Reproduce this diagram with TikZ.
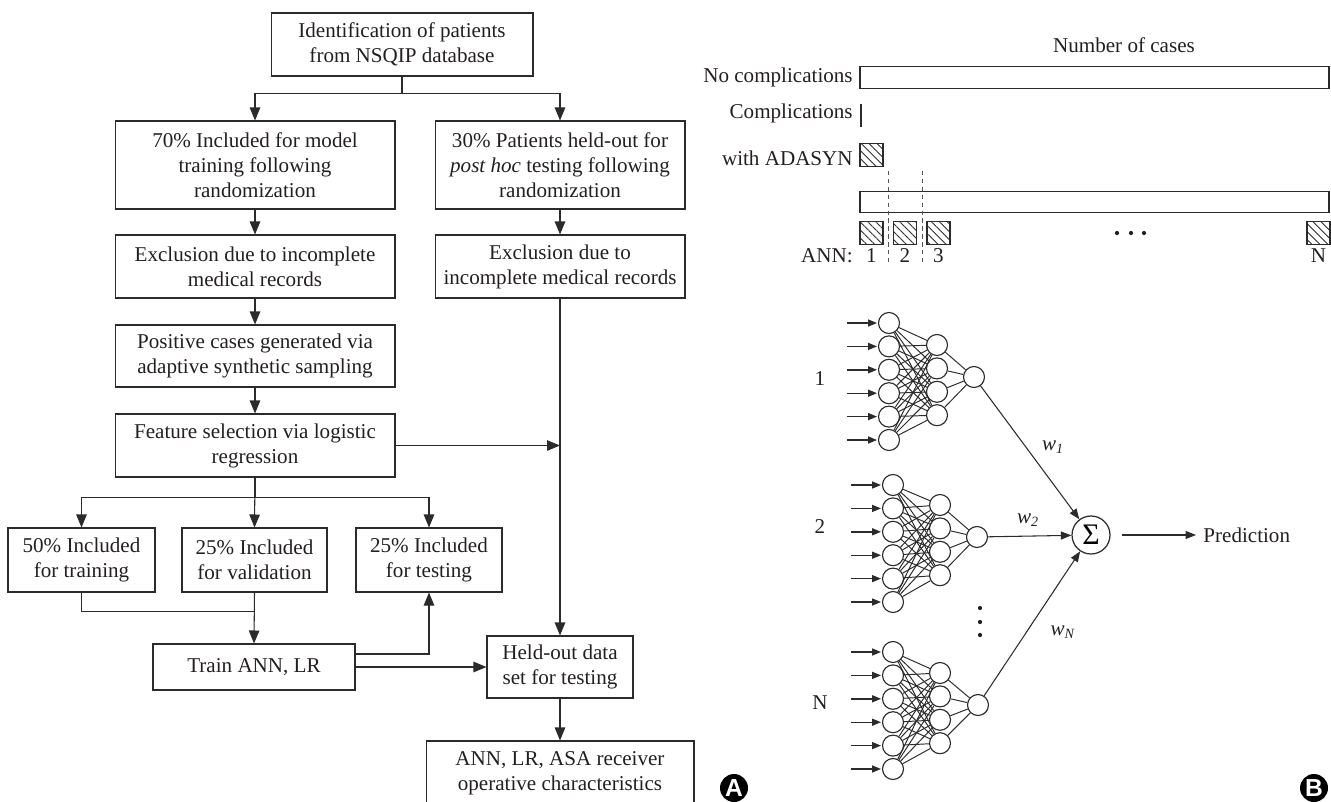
\documentclass[tikz,border=0pt]{standalone}
\usepackage{fontspec}
\setmainfont{Liberation Serif}
\newfontfamily\badgefont{Liberation Sans}
\usetikzlibrary{positioning,arrows.meta,calc,patterns.meta}
\definecolor{mltraco}{HTML}{2B2B2B}
\definecolor{mltexto}{HTML}{231F20}
\tikzset{
  mlbox/.style={draw=mltraco, line width=0.6pt, align=center, inner sep=0pt,
                text=mltexto, font=\fontsize{12}{14.2}\selectfont},
  mlarrow/.style={-{Triangle[length=2.6mm,width=2.1mm]}, draw=mltraco, line width=0.6pt},
  mlline/.style={draw=mltraco, line width=0.6pt},
  mltext/.style={text=mltexto, font=\fontsize{12}{14.2}\selectfont, inner sep=0pt},
  mlbar/.style={draw=mltraco, line width=0.8pt, inner sep=0pt, minimum height=0.43cm},
  mlhatch/.style={draw=mltraco, line width=0.7pt, inner sep=0pt, minimum size=0.46cm,
                  pattern={Lines[angle=-45,distance=3.2pt,line width=0.5pt]}, pattern color=mltraco},
  mldash/.style={draw=mltraco!80, line width=0.5pt, dash pattern=on 2.5pt off 2pt},
  mlneuron/.style={circle, draw=mltraco, line width=0.65pt, inner sep=0pt, minimum size=0.42cm},
  mlwire/.style={draw=mltraco, line width=0.55pt},
  mlinput/.style={-{Triangle[length=1.8mm,width=1.4mm]}, draw=mltraco, line width=0.8pt, shorten >=0.5pt},
  mlweight/.style={-{Triangle[length=2.1mm,width=1.6mm]}, draw=mltraco, line width=0.6pt},
  mlsum/.style={circle, draw=mltraco, line width=0.7pt, inner sep=0pt, minimum size=0.76cm,
                font=\fontsize{17}{17}\selectfont},
  mlbadge/.style={circle, fill=black, text=white, inner sep=0pt, minimum size=0.56cm,
                  font=\badgefont\bfseries\fontsize{14}{14}\selectfont},
}

\begin{document}
\begin{tikzpicture}[x=0.02cm, y=-0.02cm]
    \useasboundingbox (0,0) rectangle (1331,801);
    % --- A: fluxo de pacientes
    \node[mlbox, minimum width=5.24cm, minimum height=1.26cm] (ident) at (402,44.5) {Identification of patients\\ from NSQIP database};
    \node[mlbox, minimum width=5.6cm, minimum height=1.76cm] (inc70) at (255,165) {70\% Included for model\\ training following\\ randomization};
    \node[mlbox, minimum width=5.0cm, minimum height=1.76cm] (held30) at (560,165) {30\% Patients held-out for\\ \textit{post hoc} testing following\\ randomization};
    \node[mlbox, minimum width=5.6cm, minimum height=1.26cm] (excl1) at (255,266.5) {Exclusion due to incomplete\\ medical records};
    \node[mlbox, minimum width=5.0cm, minimum height=1.26cm] (excl2) at (560,266.5) {Exclusion due to\\ incomplete medical records};
    \node[mlbox, minimum width=5.6cm, minimum height=1.24cm] (adasyn) at (255,356) {Positive cases generated via\\ adaptive synthetic sampling};
    \node[mlbox, minimum width=5.6cm, minimum height=1.26cm] (featsel) at (255,445.5) {Feature selection via logistic\\ regression};
    \node[mlbox, minimum width=2.94cm, minimum height=1.28cm] (tr50) at (81.5,560) {50\% Included\\ for training};
    \node[mlbox, minimum width=2.9cm, minimum height=1.28cm] (va25) at (254.5,560) {25\% Included\\ for validation};
    \node[mlbox, minimum width=2.92cm, minimum height=1.28cm] (te25) at (429,560) {25\% Included\\ for testing};
    \node[mlbox, minimum width=4.04cm, minimum height=0.92cm] (trainann) at (254,667) {Train ANN, LR};
    \node[mlbox, minimum width=2.92cm, minimum height=1.24cm] (heldout) at (560,667) {Held-out data\\ set for testing};
    \node[mlbox, minimum width=5.36cm, minimum height=1.3cm] (roc) at (560,773.5) {ANN, LR, ASA receiver\\ operative characteristics};

    \draw[mlarrow] (ident.south) -- ++(0,17) -| (inc70.north);
    \draw[mlarrow] (ident.south) -- ++(0,17) -| (held30.north);
    \draw[mlarrow] (inc70) -- (excl1);
    \draw[mlarrow] (held30) -- (excl2);
    \draw[mlarrow] (excl1) -- (adasyn);
    \draw[mlarrow] (adasyn) -- (featsel);
    \draw[mlarrow] (excl2.south) -- (heldout.north);
    \draw[mlarrow] (featsel.east) -- (featsel.east -| excl2.south);
    \draw[mlarrow] (featsel.south) -- (va25.north);
    \draw[mlarrow] (featsel.south) -- ++(0,20) -| (tr50.north);
    \draw[mlarrow] (featsel.south) -- ++(0,20) -| (te25.north);
    \draw[mlline] (tr50.south) -- ++(0,19) -| (va25.south);
    \draw[mlarrow] (va25.south) -- (trainann.north);
    \draw[mlarrow] ([yshift=0.26cm]trainann.east) -| (te25.south);
    \draw[mlarrow] (trainann.east) -- (heldout.west);
    \draw[mlarrow] (heldout) -- (roc);

    \node[mlbadge] (panelA) at (734,788) {A};

    % --- B: barras de casos
    \node[mltext] (ncases) at (1124,45) {Number of cases};
    \node[mlbar, minimum width=9.38cm] (bar1) at (1094.5,77.5) {};
    \node[mltext, anchor=east] (lblnocomp) at (853,77) {No complications};
    \node[inner sep=0pt, fill=mltraco, minimum width=0.05cm, minimum height=0.46cm] (bar2) at (861,115.5) {};
    \node[mltext, anchor=east] (lblcomp) at (853,113) {Complications};
    \node[mlhatch] (sqada) at (871.5,155) {};
    \node[mltext, anchor=east] (lblada) at (853,158) {with ADASYN};
    \node[mlbar, minimum width=9.38cm] (bar3) at (1094.5,202) {};
    \foreach \x/\k in {871.5/1, 905/2, 938.5/3, 1318.5/N}{
        \node[mlhatch] (sq\k) at (\x,233) {};
        \node[mltext] (ann\k) at (\x,256) {\k};
    }
    \node[mltext, anchor=east] (lblann) at (853,256) {ANN:};
    \draw[mldash] (888,171) -- (888,262);
    \draw[mldash] (922,171) -- (922,262);
    \foreach \x in {1117,1131,1144}
        \fill[mltexto] (\x,233) circle (1.2pt);

    % --- B: conjunto de redes
    \foreach \n/\ix/\iy/\hx/\hy/\ox/\oy/\ly in {1/889/323/937/345/974/377/379, 2/893/485/940/505/977/537/527, N/893/652/940/673/978/705/703}{
        \node[mltext] (lbl\n) at (820,\ly) {\n};
        \foreach \i in {1,...,6}
            \node[mlneuron] (in\n-\i) at (\ix,{\iy+23.4*(\i-1)}) {};
        \foreach \j in {1,...,4}
            \node[mlneuron] (hid\n-\j) at (\hx,{\hy+23.4*(\j-1)}) {};
        \node[mlneuron] (out\n) at (\ox,\oy) {};
        \foreach \i in {1,...,6}{
            \draw[mlinput] ([xshift=-0.62cm]in\n-\i.west) -- (in\n-\i.west);
            \foreach \j in {1,...,4}
                \draw[mlwire] (in\n-\i) -- (hid\n-\j);
        }
        \foreach \j in {1,...,4}
            \draw[mlwire] (hid\n-\j) -- (out\n);
    }
    \foreach \y in {608,622,635}
        \fill[mltexto] (980,\y) circle (1.2pt);

    \node[mlsum] (sigma) at (1091,535) {Σ};
    \node[mltext, anchor=west, inner sep=4pt] (pred) at (1196,535) {Prediction};
    \draw[mlweight] (out1) -- (sigma);
    \draw[mlweight] (out2) -- (sigma);
    \draw[mlweight] (outN) -- (sigma);
    \draw[mlweight] ([xshift=0.22cm]sigma.east) -- (pred.west);
    \node[mltext] (w1) at (1053,447) {\textit{w}\textsubscript{\textit{1}}};
    \node[mltext] (w2) at (1028,520) {\textit{w}\textsubscript{\textit{2}}};
    \node[mltext] (wN) at (1063,632) {\textit{w}\textsubscript{\textit{N}}};

    \node[mlbadge] (panelB) at (1314,788) {B};
\end{tikzpicture}
\end{document}
